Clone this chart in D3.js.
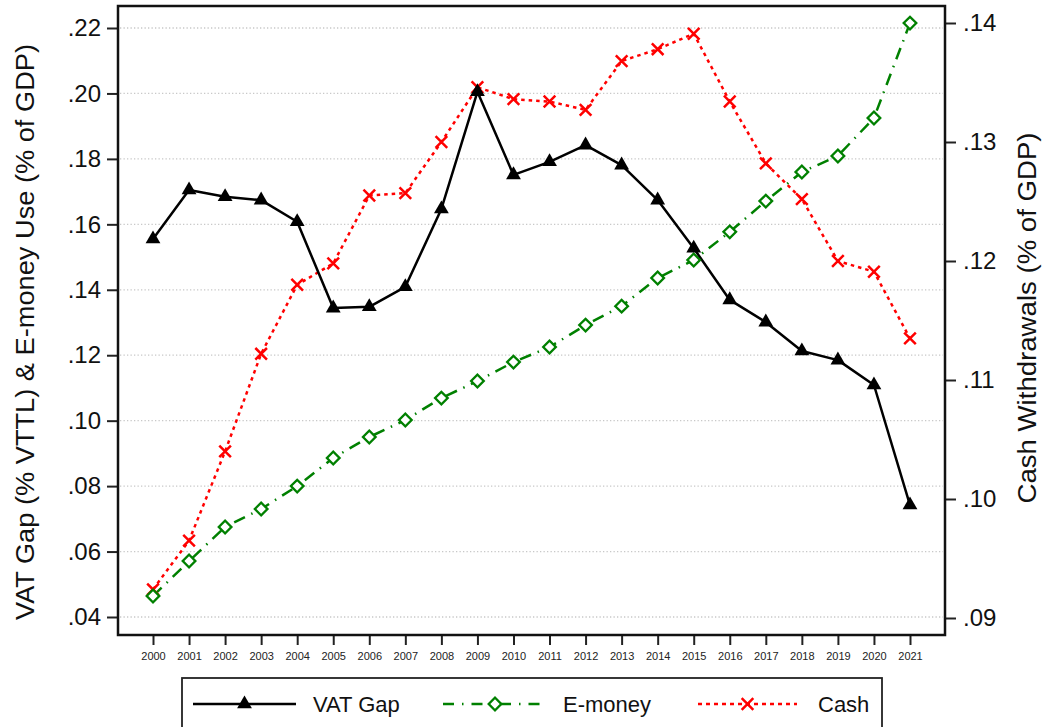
<!DOCTYPE html>
<html>
<head>
<meta charset="utf-8">
<script src="https://cdn.jsdelivr.net/npm/d3@7"></script>
<style>
  html, body { margin: 0; padding: 0; background: #fff; }
  svg { display: block; }
  text { font-family: Arial, "Liberation Sans", Helvetica, sans-serif; }
</style>
</head>
<body>
<svg id="chart" width="1043" height="727"></svg>
<script>
// ---------- data ----------
const years = [2000,2001,2002,2003,2004,2005,2006,2007,2008,2009,2010,2011,2012,2013,2014,2015,2016,2017,2018,2019,2020,2021];
const vatGap = [.1555,.1705,.1684,.1674,.1608,.1344,.1348,.1409,.1647,.2005,.1751,.1791,.1842,.1781,.1674,.1527,.1369,.1301,.1213,.1185,.1109,.0742];
const eMoney = [.0464,.0571,.0675,.0730,.0800,.0886,.0950,.1002,.1069,.1121,.1179,.1225,.1292,.1350,.1436,.1491,.1577,.1671,.1760,.1809,.1925,.2215];
const cash   = [.0924,.0965,.1040,.1122,.1180,.1198,.1255,.1257,.1300,.1346,.1336,.1334,.1327,.1368,.1378,.1391,.1334,.1282,.1252,.1200,.1191,.1135];
const leftTicks  = [.04,.06,.08,.10,.12,.14,.16,.18,.20,.22];
const rightTicks = [.09,.10,.11,.12,.13,.14];
const leftTitle  = "VAT Gap (% VTTL) & E-money Use (% of GDP)";
const rightTitle = "Cash Withdrawals (% of GDP)";
const legendLabels = ["VAT Gap", "E-money", "Cash"];

// ---------- layout ----------
const svg = d3.select("#chart");
const frame = {left: 118, right: 945, top: 6, bottom: 635};

const x  = d3.scaleLinear().domain([2000, 2021]).range([153, 910]);
const yL = d3.scaleLinear().domain([0.04, 0.22]).range([617, 28]);
const yR = d3.scaleLinear().domain([0.09, 0.14]).range([618, 23]);

const fmt = v => d3.format(".2f")(v).replace(/^0\./, ".");

// gridlines
svg.append("g")
  .selectAll("line")
  .data(leftTicks)
  .join("line")
  .attr("x1", frame.left + 2).attr("x2", frame.right - 2)
  .attr("y1", d => yL(d)).attr("y2", d => yL(d))
  .attr("stroke", "#c8c8c8").attr("stroke-width", 1.3)
  .attr("stroke-dasharray", "1.3,2.2");

// left axis
const gL = svg.append("g").attr("transform", `translate(${frame.left},0)`)
  .call(d3.axisLeft(yL).tickValues(leftTicks).tickFormat(fmt).tickSize(11).tickPadding(6));
gL.select(".domain").remove();
gL.selectAll(".tick line").attr("stroke", "#222").attr("stroke-width", 2);
gL.selectAll(".tick text").attr("font-size", 24).attr("fill", "#111")
  .attr("font-family", "Arial, 'Liberation Sans', sans-serif");

// right axis
const gR = svg.append("g").attr("transform", `translate(${frame.right},0)`)
  .call(d3.axisRight(yR).tickValues(rightTicks).tickFormat(fmt).tickSize(11).tickPadding(7));
gR.select(".domain").remove();
gR.selectAll(".tick line").attr("stroke", "#222").attr("stroke-width", 2);
gR.selectAll(".tick text").attr("font-size", 24).attr("fill", "#111")
  .attr("font-family", "Arial, 'Liberation Sans', sans-serif");

// bottom axis
const gX = svg.append("g").attr("transform", `translate(0,${frame.bottom})`)
  .call(d3.axisBottom(x).tickValues(years).tickFormat(d3.format("d")).tickSize(10).tickPadding(7));
gX.select(".domain").remove();
gX.selectAll(".tick line").attr("stroke", "#222").attr("stroke-width", 2);
gX.selectAll(".tick text").attr("font-size", 11).attr("fill", "#222")
  .attr("font-family", "Arial, 'Liberation Sans', sans-serif");

// frame
svg.append("rect")
  .attr("x", frame.left).attr("y", frame.top)
  .attr("width", frame.right - frame.left).attr("height", frame.bottom - frame.top)
  .attr("fill", "none").attr("stroke", "#111").attr("stroke-width", 2.5);

// axis titles
svg.append("text")
  .attr("transform", "translate(34,332) rotate(-90)")
  .attr("text-anchor", "middle")
  .attr("font-size", 26).attr("fill", "#111")
  .attr("textLength", 576).attr("lengthAdjust", "spacingAndGlyphs")
  .text(leftTitle);
svg.append("text")
  .attr("transform", "translate(1036,318) rotate(-90)")
  .attr("text-anchor", "middle")
  .attr("font-size", 26).attr("fill", "#111")
  .attr("textLength", 371).attr("lengthAdjust", "spacingAndGlyphs")
  .text(rightTitle);

// ---------- series ----------
const green = "#008000", red = "#ff0000";
const triPath = d3.symbol().type(d3.symbolTriangle).size(95)();
const sqPath  = d3.symbol().type(d3.symbolSquare).size(80)();
const xPath   = d3.symbol().type(d3.symbolX).size(90)();

const plot = svg.append("g");

function drawLine(vals, yScale, color, dash) {
  const line = d3.line().x((d, i) => x(years[i])).y(d => yScale(d));
  plot.append("path").datum(vals)
    .attr("d", line).attr("fill", "none")
    .attr("stroke", color).attr("stroke-width", 2.5)
    .attr("stroke-linejoin", "round")
    .attr("stroke-dasharray", dash);
}

// cash (right axis)
drawLine(cash, yR, red, "3.5,4");
// e-money
drawLine(eMoney, yL, green, "12,7,1.5,7");
// VAT gap
drawLine(vatGap, yL, "#000", null);

plot.append("g").selectAll("path").data(cash).join("path")
  .attr("transform", (d, i) => `translate(${x(years[i])},${yR(d)})`)
  .attr("d", xPath).attr("fill", "none").attr("stroke", red).attr("stroke-width", 2.5);

plot.append("g").selectAll("path").data(eMoney).join("path")
  .attr("transform", (d, i) => `translate(${x(years[i])},${yL(d)}) rotate(45)`)
  .attr("d", sqPath).attr("fill", "#fff").attr("stroke", green).attr("stroke-width", 2.3);

plot.append("g").selectAll("path").data(vatGap).join("path")
  .attr("transform", (d, i) => `translate(${x(years[i])},${yL(d)})`)
  .attr("d", triPath).attr("fill", "#000");

// ---------- legend ----------
const lg = svg.append("g");
lg.append("rect").attr("x", 182).attr("y", 678).attr("width", 700).attr("height", 60)
  .attr("fill", "#fff").attr("stroke", "#222").attr("stroke-width", 1.8);
const ly = 704;
const items = [
  {x1: 193, x2: 296, color: "#000", dash: null, marker: "tri", tx: 313},
  {x1: 443, x2: 547, color: green, dash: "11,8,1.5,8", marker: "dia", tx: 563},
  {x1: 698, x2: 797, color: red, dash: "4,4", marker: "x", tx: 818}
];
items.forEach((it, k) => {
  lg.append("line").attr("x1", it.x1).attr("x2", it.x2).attr("y1", ly).attr("y2", ly)
    .attr("stroke", it.color).attr("stroke-width", 2.5).attr("stroke-dasharray", it.dash);
  const cx = (it.x1 + it.x2) / 2;
  if (it.marker === "tri") {
    lg.append("path").attr("transform", `translate(${cx},${ly})`).attr("d", triPath).attr("fill", "#000");
  } else if (it.marker === "dia") {
    lg.append("path").attr("transform", `translate(${cx},${ly}) rotate(45)`).attr("d", sqPath)
      .attr("fill", "#fff").attr("stroke", green).attr("stroke-width", 2.3);
  } else {
    lg.append("path").attr("transform", `translate(${cx},${ly})`).attr("d", xPath)
      .attr("fill", "none").attr("stroke", red).attr("stroke-width", 2.5);
  }
  lg.append("text").attr("x", it.tx).attr("y", ly).attr("dy", "0.36em")
    .attr("font-size", 22).attr("fill", "#111").text(legendLabels[k]);
});
</script>
</body>
</html>
